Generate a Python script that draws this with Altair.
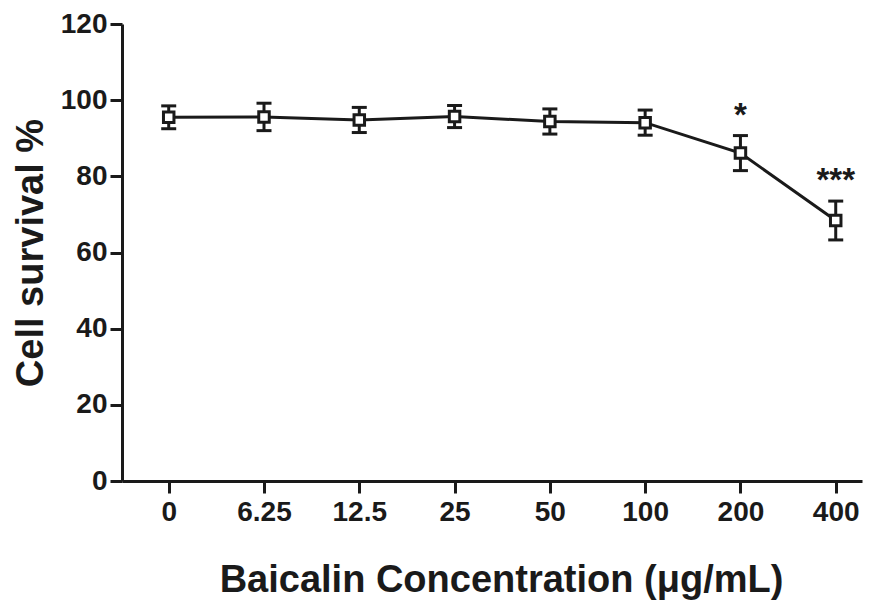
import altair as alt
import pandas as pd

conc = ["0", "6.25", "12.5", "25", "50", "100", "200", "400"]
survival = [95.5, 95.6, 94.8, 95.7, 94.4, 94.1, 86.1, 68.4]
error = [3.0, 3.6, 3.3, 2.9, 3.3, 3.3, 4.6, 5.1]
stars = ["", "", "", "", "", "", "*", "***"]

df = pd.DataFrame({"conc": conc, "survival": survival, "err": error, "star": stars})

FONT = "Liberation Sans"
INK = "#1a1a1a"

x_enc = alt.X(
    "conc:N",
    sort=conc,
    scale=alt.Scale(type="point", padding=0.383, align=0.64),
    axis=alt.Axis(
        title="Baicalin Concentration (\u03bcg/mL)",
        labelAngle=0,
        labelFont=FONT, labelFontSize=28, labelFontWeight="bold", labelColor=INK,
        titleFont=FONT, titleFontSize=38, titleFontWeight="bold", titleColor=INK,
        titlePadding=35,
        titleX=379,
        labelPadding=5,
        domainColor=INK, domainWidth=3,
        tickColor=INK, tickWidth=3, tickSize=12,
        grid=False,
    ),
)
y_scale = alt.Scale(domain=[0, 120], nice=False, zero=True)
y_axis = alt.Axis(
    title="Cell survival %",
    values=[0, 20, 40, 60, 80, 100, 120],
    labelFont=FONT, labelFontSize=28, labelFontWeight="bold", labelColor=INK,
    titleFont=FONT, titleFontSize=38, titleFontWeight="bold", titleColor=INK,
    titlePadding=10,
    labelPadding=3,
    domainColor=INK, domainWidth=3,
    tickColor=INK, tickWidth=3, tickSize=12,
    grid=False,
)

base = alt.Chart(df).transform_calculate(
    lo="datum.survival - datum.err",
    hi="datum.survival + datum.err",
)

line = base.mark_line(color=INK, strokeWidth=3).encode(
    x=x_enc,
    y=alt.Y("survival:Q", scale=y_scale, axis=y_axis),
)

bars = base.mark_rule(color=INK, strokeWidth=3).encode(
    x=alt.X("conc:N", sort=conc),
    y=alt.Y("lo:Q", scale=y_scale),
    y2="hi:Q",
)

cap_lo = base.mark_tick(color=INK, thickness=3, size=15, opacity=1).encode(
    x=alt.X("conc:N", sort=conc),
    y=alt.Y("lo:Q", scale=y_scale),
)
cap_hi = base.mark_tick(color=INK, thickness=3, size=15, opacity=1).encode(
    x=alt.X("conc:N", sort=conc),
    y=alt.Y("hi:Q", scale=y_scale),
)

points = base.mark_point(
    shape="square", filled=True, fill="white", stroke=INK, strokeWidth=3, size=110, opacity=1
).encode(
    x=alt.X("conc:N", sort=conc),
    y=alt.Y("survival:Q", scale=y_scale),
)

star_text = base.mark_text(
    font=FONT, fontSize=33, fontWeight="bold", color=INK, baseline="alphabetic", dy=-10
).encode(
    x=alt.X("conc:N", sort=conc),
    y=alt.Y("hi:Q", scale=y_scale),
    text="star:N",
)

chart = alt.layer(line, bars, cap_lo, cap_hi, points, star_text).properties(
    width=740,
    height=457,
    autosize=alt.AutoSizeParams(type="none"),
    padding={"left": 114, "top": 16, "right": 6, "bottom": 119},
    background="white",
).configure_view(stroke=None)

chart.save("out.html", embed_options={"renderer": "svg", "actions": False})
